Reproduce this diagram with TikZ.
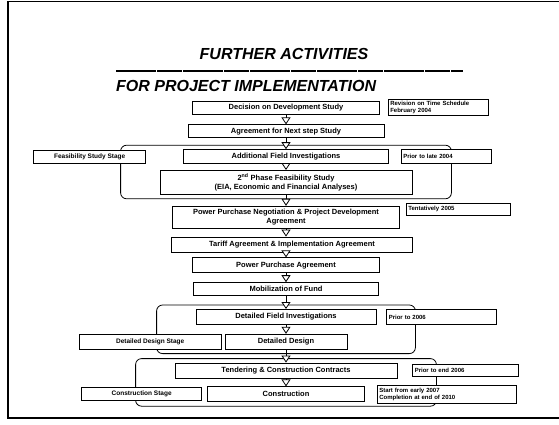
\documentclass[tikz,border=0pt]{standalone}
\usepackage{fontspec}
\setmainfont{Liberation Sans}
\usetikzlibrary{arrows.meta, positioning, fit, backgrounds}

\begin{document}
\begin{tikzpicture}[
    x = 1pt, y = 1pt,
    node distance = 10pt and 10pt,
    punkt/.style = {rectangle, draw, fill=white, line width=0.8pt, inner sep=1pt,
                    align=center, font=\fontsize{7.5}{8.5}\selectfont\bfseries},
    notis/.style = {rectangle, draw, fill=white, line width=0.8pt, inner sep=2pt,
                    align=left, font=\fontsize{6}{7}\selectfont\bfseries},
    etappe/.style = {punkt, font=\fontsize{6.5}{7.5}\selectfont\bfseries},
    gruppe/.style = {draw, rounded corners=6pt, line width=0.8pt,
                     inner xsep=39pt, inner ysep=4pt},
    pil/.style = {black, line width=0.8pt, -{Triangle[width=9pt, length=7pt, fill=white]}},
    tittel/.style = {font=\fontsize{16}{18}\selectfont\bfseries\itshape, inner sep=0pt}
    ]

  \useasboundingbox (0,0) rectangle (559,-424);

  % ramme
  \draw[line width=1.2pt] (559,-1.5) -- (8,-1.5) -- (8,-418) -- (559,-418);

  % overskrift
  \node[tittel] (tittel1) at (284,-54) {FURTHER ACTIVITIES};
  \node[tittel, anchor=west] (tittel2) at (116,-86) {FOR PROJECT IMPLEMENTATION};
  \coordinate (strek-v) at (116,-71);
  \coordinate (strek-h) at (463,-71);
  \draw[line width=2pt, dash pattern=on 40pt off 1pt on 25pt off 1pt] (strek-v) -- (strek-h);

  % hovedrekke
  \node[punkt, minimum width=187pt, minimum height=13pt] (beslutning) at (286,-107.5)
       {Decision on Development Study};
  \node[punkt, minimum width=196pt, minimum height=13pt] (avtale) [below=10pt of beslutning]
       {Agreement for Next step Study};
  \node[punkt, minimum width=205pt, minimum height=14pt] (tillegg) [below=11pt of avtale]
       {Additional Field Investigations};
  \node[punkt, minimum width=252pt, minimum height=24pt] (fase2) [below=6pt of tillegg]
       {2\textsuperscript{nd} Phase Feasibility Study\\(EIA, Economic and Financial Analyses)};
  \node[punkt, minimum width=227pt, minimum height=22pt] (forhandling) [below=11pt of fase2]
       {Power Purchase Negotiation \& Project Development\\Agreement};
  \node[punkt, minimum width=241pt, minimum height=15pt] (tariff) [below=8pt of forhandling, xshift=6pt]
       {Tariff Agreement \& Implementation Agreement};
  \node[punkt, minimum width=187pt, minimum height=15pt] (ppa) [below=5pt of tariff, xshift=-6pt]
       {Power Purchase Agreement};
  \node[punkt, minimum width=185pt, minimum height=13pt] (fond) [below=9pt of ppa]
       {Mobilization of Fund};
  \node[punkt, minimum width=180pt, minimum height=15pt] (felt) [below=13pt of fond]
       {Detailed Field Investigations};
  \node[punkt, minimum width=122pt, minimum height=15pt] (design) [below=9pt of felt]
       {Detailed Design};
  \node[punkt, minimum width=222pt, minimum height=15pt] (anbud) [below=13pt of design]
       {Tendering \& Construction Contracts};
  \node[punkt, minimum width=157pt, minimum height=15pt] (bygging) [below=8pt of anbud]
       {Construction};

  % tidsangivelser
  \node[notis, text width=96pt, minimum height=14pt] (revisjon) [right=8pt of beslutning]
       {Revision on Time Schedule\\February 2004};
  \node[notis, text width=86pt, minimum height=14pt] (tid1) [right=12pt of tillegg]
       {Prior to late 2004};
  \node[notis, text width=100pt, minimum height=12pt] (tid2) [right=6pt of forhandling, yshift=8pt]
       {Tentatively 2005};
  \node[notis, text width=106pt, minimum height=15pt] (tid3) [right=10pt of felt]
       {Prior to 2006};
  \node[notis, text width=102pt, minimum height=12pt] (tid4) [right=15pt of anbud]
       {Prior to end 2006};
  \node[notis, text width=135pt, minimum height=18pt] (tid5) [right=12pt of bygging]
       {Start from early 2007\\Completion at end of 2010};

  % etapper
  \node[etappe, minimum width=112pt, minimum height=13pt] (mulighet) [left=37pt of tillegg]
       {Feasibility Study Stage};
  \node[etappe, minimum width=142pt, minimum height=15pt] (designfase) [left=3pt of design]
       {Detailed Design Stage};
  \node[etappe, minimum width=120pt, minimum height=13pt] (byggefase) [left=5pt of bygging]
       {Construction Stage};

  \begin{scope}[on background layer]
    \node[gruppe, fit=(tillegg)(fase2)] (gruppe1) {};
    \node[gruppe, fit=(felt)(design)] (gruppe2) {};
    \node[gruppe, fit=(anbud)(bygging)] (gruppe3) {};
  \end{scope}

  \draw[pil] (beslutning) -- (avtale);
  \draw[pil] (avtale) -- (tillegg);
  \draw[pil] (tillegg) -- (fase2);
  \draw[pil] (fase2) -- (forhandling);
  \draw[pil] (forhandling.south) -- (forhandling.south |- tariff.north);
  \draw[pil] (ppa.north |- tariff.south) -- (ppa.north);
  \draw[pil] (ppa) -- (fond);
  \draw[pil] (fond) -- (felt);
  \draw[pil] (felt) -- (design);
  \draw[pil] (design) -- (anbud);
  \draw[pil] (anbud) -- (bygging);

\end{tikzpicture}
\end{document}
